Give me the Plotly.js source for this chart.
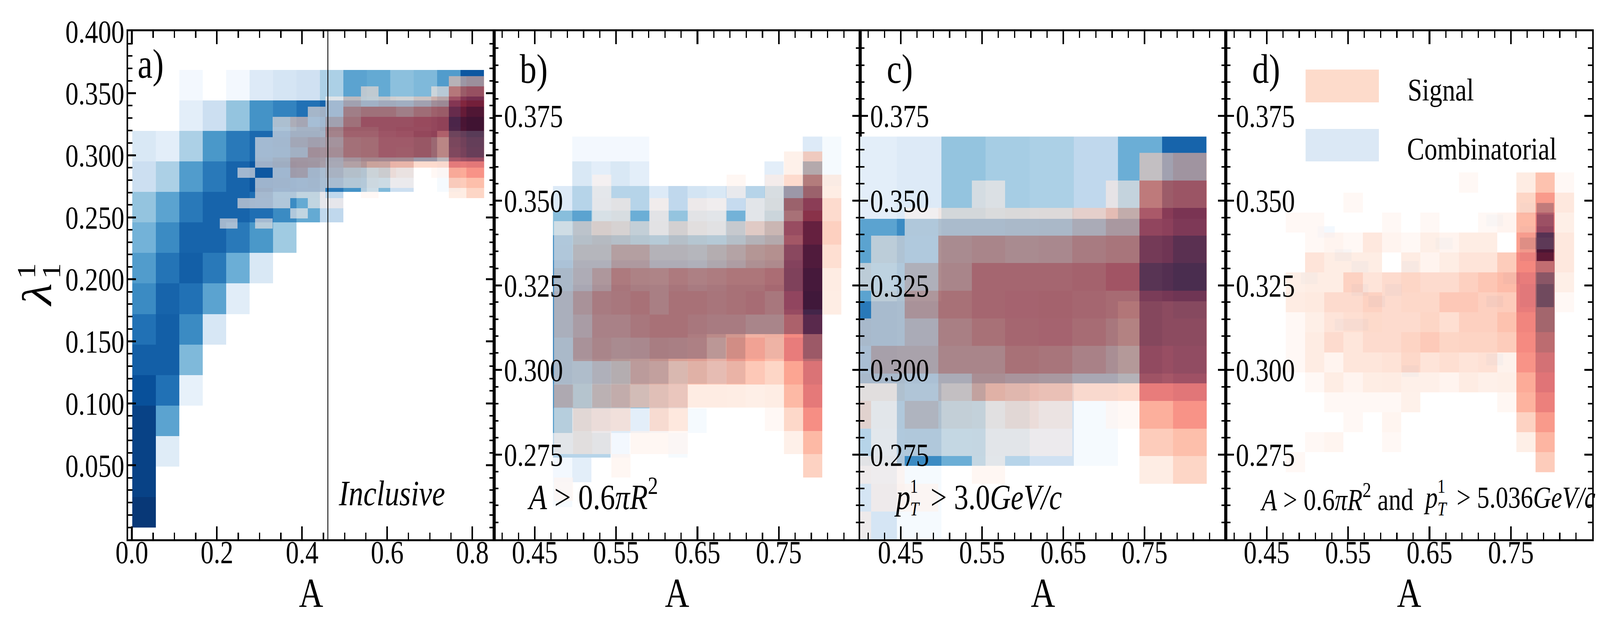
<!DOCTYPE html>
<html><head><meta charset="utf-8">
<script src="https://cdn.plot.ly/plotly-3.0.1.min.js"></script>
<style>html,body{margin:0;padding:0;background:#fff;overflow:hidden}#c{width:5000px;height:1625px;transform-origin:0 0}</style>
</head><body><div id="c"></div>
<script>
const n=null;
/* every matrix: first line = top row, values are colour-map fractions */
const blueA=[
[n,n,.02,n,.02,.13,.17,.2,.33,.55,.52,.42,.45,.58,.85],
[n,n,.1,.22,.4,.62,.68,.75,.8,.8,.8,.8,.8,.85,1],
[.15,.1,.33,.6,.72,.78,.78,.78,.75,.75,.75,.75,.85,.55,.62],
[.22,.33,.58,.72,.8,.85,.82,.8,.72,.62,.45,.22,n,.01,n],
[.4,.55,.72,.8,.8,.76,.65,.52,.27],
[.48,.65,.8,.8,.72,.6,.37],
[.58,.74,.82,.72,.5,.15],
[.65,.8,.75,.55,.11],
[.75,.82,.65,.16],
[.82,.82,.45],
[.88,.75,.08],
[.93,.55],
[.93,.12],
[.93],
[.97]];
const redA=[
[n,n,n,n,n,n,n,n,n,n,n,n,n,.23,.27],
[n,n,n,n,n,n,n,n,.13,n,n,n,.08,.53,.58],
[n,n,n,n,n,n,.02,.2,.1,.15,.13,.2,.3,.72,.8],
[n,n,n,n,n,.1,.02,.38,.45,.45,.38,.47,.53,.88,.95],
[n,n,n,.08,.2,.02,.2,.45,.6,.6,.6,.63,.65,.97,1],
[n,n,n,.03,.13,.13,.38,.55,.55,.6,.62,.62,.65,.96,1],
[n,n,.03,.05,.18,.22,.3,.48,.5,.58,.58,.55,.47,.92,.96],
[n,n,.03,.04,.13,.31,.33,.48,.5,.58,.57,.55,.47,.9,.95],
[n,n,.05,.12,.27,.26,.2,.3,.37,.36,.35,.22,.22,.7,.73],
[n,.03,n,.02,.22,.06,.15,.14,.1,.15,.1,n,.01,.47,.58],
[n,n,.02,.04,.02,.04,.07,.07,.05,.02,.02,n,n,.3,.37],
[n,n,.06,.02,.03,.03,n,n,.01,n,n,n,n,.12,.25],
[n,.06,.05,.03,n,.02,.03],
[n,n,n,n,.02],
[.05,n,.05]];
const blueB=[
[n,.02,.02,.02,.02,n,n,n,n,n,n,n,n,.13,.01],
[n,.15,.1,.15,.1,n,n,n,n,n,n,.1,n,.6,.01],
[.13,.3,.28,.3,.3,.13,.27,.18,.15,.25,.3,.38,.85,.85],
[.43,.55,.38,.38,.5,.3,.4,.3,.3,.48,.3,.45,.7,.95],
[.65,.6,.6,.6,.6,.6,.6,.6,.6,.6,.6,.6,.6,.95],
[.7,.65,.65,.65,.65,.65,.65,.65,.65,.65,.65,.65,.65,.95],
[.7,.7,.7,.7,.7,.7,.7,.7,.7,.7,.7,.7,.65,.95],
[.7,.7,.7,.7,.7,.7,.7,.7,.7,.7,.7,.7,.6,.83],
[.7,.7,.7,.7,.7,.7,.7,.65,.55,.4,.1,.15,n,.3],
[.7,.65,.65,.6,.55,.5,.35,.3,.25,.2],
[.65,.6,.55,.5,.4,.3,.2],
[.6,.3,.2,.12,.1,.05,n,.01],
[.3,.3,.3,.02,n,n,.01],
[.02,.1],
[.01]];
const redB=[
[n,n,n,n,n,n,n,n,n,n,n,n,.08,.27],
[n,n,.02,n,n,n,n,n,n,.02,n,.06,.22,.5,.12],
[n,n,.03,.06,n,.05,n,.05,.03,n,.03,.08,.5,.68,.22],
[.02,.15,.18,.15,.1,.06,.15,.1,.07,.15,.22,.27,.68,.88,.28],
[.03,.2,.2,.32,.32,.22,.22,.2,.25,.3,.37,.4,.82,.95,.2],
[.12,.22,.33,.48,.44,.43,.48,.45,.47,.5,.5,.54,.85,.98,.13],
[.18,.33,.45,.47,.5,.43,.5,.5,.48,.5,.52,.47,.75,1,.12],
[.18,.28,.42,.42,.47,.5,.5,.47,.45,.45,.4,.4,.62,.93],
[.12,.33,.4,.37,.38,.44,.43,.45,.38,.5,.48,.38,.7,.93],
[.12,.13,.2,.25,.36,.36,.3,.35,.31,.37,.32,.25,.5,.78],
[.24,.12,.25,.3,.26,.28,.27,.13,.13,.12,.1,.12,.4,.72],
[.02,.15,.15,.15,n,.2,.15,n,n,n,n,.01,.24,.6],
[.03,.1,.05,n,.02,.02,.01,n,n,n,n,n,.09,.4],
[n,n,n,.02,n,n,n,n,n,n,n,n,n,.27],
[.01]];
const blueC=[
[.1,.13,.4,.35,.33,.27,.5,.8],
[.55,.65,.7,.7,.7,.7,.7,.75],
[.72,.7,.7,.7,.7,.7,.6,.55],
[.3,.65,.5,.3,.2,.01],
[.17,.01]];
const redC=[
[n,n,n,n,n,n,n,n,n,n,n,n,n,.2,.27],
[n,n,n,n,n,n,n,n,.05,n,n,n,.06,.55,.58],
[n,n,n,n,n,n,.02,.1,.1,.12,.13,.2,.3,.72,.8],
[n,n,n,n,n,.07,.01,.37,.4,.37,.38,.45,.48,.88,.95],
[n,n,n,n,.08,.02,.2,.4,.55,.55,.55,.57,.63,.97,1],
[n,n,n,n,n,.08,.33,.5,.55,.56,.57,.55,.53,.85,.88],
[n,n,n,n,.1,.08,.2,.43,.5,.55,.56,.52,.47,.85,.85],
[n,n,n,n,.05,.25,.25,.4,.4,.5,.48,.42,.35,.78,.82],
[n,n,n,n,.1,.1,.05,.2,.35,.32,.3,.22,.22,.7,.74],
[n,n,n,n,.18,.02,.18,.1,.08,.15,.1,n,.01,.45,.58],
[n,n,n,n,n,.01,.02,.02,.03,.03,.03,n,n,.3,.37],
[n,n,n,n,.05,.03,n,n,.02,n,n,n,n,.12,.25],
[n,n,n,n,n,.05,.02],
[n,n,n,n,.05]];
const blueD=[
[n,n,n,n,n,n,n,n,n,n,n,n,n,.01,.48],
[n,n,n,n,n,n,n,n,n,n,n,.03,n,n,.63],
[n,.02,n,n,n,n,n,n,n,n,n,n,n,.02,.72],
[n,n,n,n,n,n,n,n,.03,n,n,n,n,.3,.65],
[n,n,.05,n,n,n,n,n,n,n,n,n,n,.08,1],
[n,n,n,.05,n,n,.05],
[.03,n,n,n,n,n,n,n,n,n,n,n,.05,n,.27],
[n,n,n,.05,n,.05,n,n,n,n,n,n,n,.05,.45],
[n,n,n,n,.06,n,n,n,n,n,n,.06,n,.05,.45],
[],
[n,n,.05,.05],
[],
[],
[n,n,n,n,n,n,n,n,n,n,n,.05],
[n,n,n,n,n,n,.05]];
const redD=[
[n,n,n,n,n,n,n,n,n,.01,n,n,.13,.35,.01],
[n,n,n,.01,n,n,n,n,n,n,n,n,.25,.55,.15],
[.01,.01,n,n,n,.01,n,.01,n,n,.01,.05,.4,.7,.1],
[n,.01,.05,.01,.15,.05,.01,.1,.05,.12,.12,n,.53,.97,.15],
[n,.17,.12,.12,.12,n,.13,.05,.12,.17,.17,.3,.63,.9,.15],
[.1,.12,.12,.27,.17,.22,.25,.22,.22,.28,.33,.38,.7,1,.1],
[.13,.14,.22,.22,.27,.22,.24,.24,.32,.32,.28,.3,.7,1,.01],
[.01,.1,.17,.2,.23,.22,.22,.25,.2,.28,.28,.35,.65,1],
[.01,.13,.22,.16,.22,.22,.26,.31,.25,.26,.26,.3,.62,.92],
[.01,.13,.05,.16,.16,.18,.24,.17,.2,.17,.19,.07,.58,.82],
[n,.01,.12,.05,.12,.13,.09,.09,.05,.13,.09,.1,.47,.75],
[n,n,.01,.01,.01,.01,.08,n,n,n,n,.02,.43,.68],
[n,n,n,.01,n,.04,n,n,n,n,n,n,.27,.55],
[n,.01,.04,n,n,.01,n,n,n,n,n,n,.1,.42],
[.01,n,n,n,n,n,n,n,n,n,n,n,n,.3]];
const panelNames=['a)','b)','c)','d)'];
const xLabel='A';
const yMajorA=[.05,.1,.15,.2,.25,.3,.35,.4];
const yMajorZoom=[.275,.3,.325,.35,.375];
const xMajorA=[0,.2,.4,.6,.8];
const xMajorZoom=[.45,.55,.65,.75];
const legendNames=['Signal','Combinatorial'];
const cutLine=0.4605;

const BLUES=[[0,'rgb(247,251,255)'],[.125,'rgb(222,235,247)'],[.25,'rgb(198,219,239)'],[.375,'rgb(158,202,225)'],[.5,'rgb(107,174,214)'],[.625,'rgb(66,146,198)'],[.75,'rgb(33,113,181)'],[.875,'rgb(8,81,156)'],[1,'rgb(8,48,107)']];
const REDS=[[0,'rgb(255,245,240)'],[.125,'rgb(254,224,210)'],[.25,'rgb(252,187,161)'],[.375,'rgb(252,146,114)'],[.5,'rgb(251,106,74)'],[.625,'rgb(239,59,44)'],[.75,'rgb(203,24,29)'],[.875,'rgb(165,15,21)'],[1,'rgb(103,0,13)']];
const W=5000,H=1625,FONT='"Liberation Serif",serif';
/* The browser may be narrower than the requested 5000 px: fit the whole chart horizontally. */
const fit=Math.min(1,window.innerWidth/W);
document.getElementById('c').style.transform='scaleX('+fit+')';

function hm(rows,cols,left,dx,top,dy,cs,op,i){
  const z=rows.slice().reverse().map(r=>{const o=r.slice();while(o.length<cols)o.push(null);return o;});
  const s=i?String(i+1):'';
  return {type:'heatmap',z:z,x0:left+dx/2,dx:dx,y0:top-dy*(rows.length-.5),dy:dy,colorscale:cs,zmin:0,zmax:1,
    showscale:false,opacity:op,hoverinfo:'skip',xaxis:'x'+s,yaxis:'y'+s};
}
const data=[
 hm(blueA,15,.001,.0551,.3688,.0246,BLUES,1,0),
 hm(redA,15,.2067,.0414,.3638,.00819,REDS,.6,0),
 hm(blueB,15,.4724,.02362,.3689,.00729,BLUES,1,1),
 hm(redB,15,.4736,.02355,.3645,.00688,REDS,.6,1),
 hm(blueC,8,.391,.0544,.3689,.0243,BLUES,1,2),
 hm(redC,15,.2067,.0413,.3641,.00814,REDS,.6,2),
 hm(blueD,15,.4921,.02071,.3493,.00342,BLUES,1,3),
 hm(redD,15,.4735,.02362,.3583,.0059,REDS,.6,3)
];
const L=[400,1544,2688,3831,4976],T=80,B=1380;
const layout={width:W,height:H,margin:{l:0,r:0,t:0,b:0},paper_bgcolor:'#fff',plot_bgcolor:'#fff',showlegend:false,
  font:{family:FONT,color:'#000'},annotations:[],shapes:[]};
const tf={family:FONT,size:82,color:'#000'};
for(let i=0;i<4;i++){
  const s=i?String(i+1):'';
  const common={showline:true,linewidth:5,linecolor:'#000',mirror:'ticks',ticks:'inside',tickwidth:5,tickcolor:'#000',showgrid:false,zeroline:false,tickfont:tf,automargin:false,tickmode:'array'};
  layout['xaxis'+s]=Object.assign({},common,{domain:[L[i]/W,L[i+1]/W],anchor:'y'+s,ticklen:33,
    range:i?[.4,.85]:[-.009,.851],tickvals:i?xMajorZoom:xMajorA,tickformat:i?'.2f':'.1f',ticklabelstandoff:-42,
    minor:{ticks:'inside',ticklen:17,tickwidth:4,tickcolor:'#000',tick0:i?.45:0,dtick:i?.02:.05,showgrid:false},
    title:{text:xLabel,font:{family:FONT,size:105,color:'#000'},standoff:0}});
  layout['yaxis'+s]=Object.assign({},common,{domain:[1-B/H,1-T/H],anchor:'x'+s,ticklen:25,
    range:i?[.25,.4]:[-.0096,.4],tickformat:'.3f',tickvals:i?yMajorZoom:yMajorA,
    minor:{ticks:'inside',ticklen:14,tickwidth:4,tickcolor:'#000',tick0:0,dtick:i?.005:.01,showgrid:false},
    ticklabelstandoff:i?-237:-10});
}
function txt(text,x,y,size,extra){
  layout.annotations.push(Object.assign({xref:'paper',yref:'paper',x:x/W,y:1-y/H,text:text,showarrow:false,xanchor:'left',yanchor:'middle',
    font:{family:FONT,size:size,color:'#000'},align:'left'},extra||{}));
}
[[428,163],[1622,176],[2769,176],[3911,176]].forEach((p,i)=>txt(panelNames[i],p[0],p[1],105));
txt('<i>Inclusive</i>',1056,1262,92);
txt('<i>A</i> &gt; 0.6<i>πR</i><sup>2</sup>',1645,1265,92);
txt('<i>p</i>',2792,1272,90);
txt('1',2842,1244,50);
txt('<i>T</i>',2842,1302,50);
txt('&gt; 3.0<i>GeV/c</i>',2906,1272,90);
txt('<i>A</i> &gt; 0.6<i>πR</i><sup>2</sup> and',3936,1272,78);
txt('<i>p</i>',4447,1272,78);
txt('1',4490,1244,50);
txt('<i>T</i>',4490,1302,50);
txt('&gt; 5.036<i>GeV/c</i>',4550,1272,78);
// y axis label pieces
txt('<i>λ</i>',115,755,130,{textangle:-90,xanchor:'center'});
txt('1',82,694,82,{textangle:-90,xanchor:'center'});
txt('1',160,694,82,{textangle:-90,xanchor:'center'});
// legend
txt(legendNames[0],4397,230,81);
txt(legendNames[1],4395,381,81);
layout.shapes.push({type:'rect',xref:'paper',yref:'paper',x0:4080/W,x1:4309/W,y0:1-262/H,y1:1-178/H,fillcolor:'rgb(253,219,203)',line:{width:0}});
layout.shapes.push({type:'rect',xref:'paper',yref:'paper',x0:4080/W,x1:4309/W,y0:1-413/H,y1:1-330/H,fillcolor:'rgb(219,232,245)',line:{width:0}});
layout.shapes.push({type:'line',xref:'x',yref:'paper',x0:cutLine,x1:cutLine,y0:1-B/H,y1:1-T/H,line:{color:'#000',width:2.6}});
Plotly.newPlot('c',data,layout,{staticPlot:true,displayModeBar:false});
</script></body></html>
